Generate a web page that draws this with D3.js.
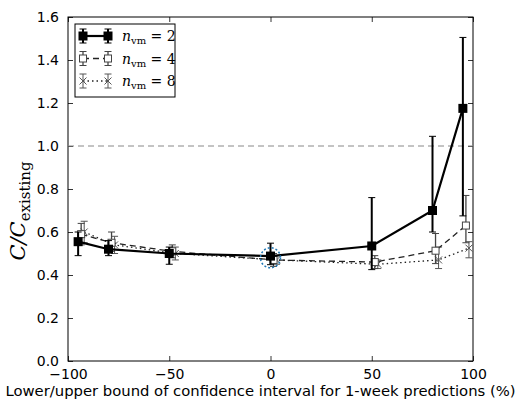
<!DOCTYPE html>
<html>
<head>
<meta charset="utf-8">
<script src="https://cdn.jsdelivr.net/npm/d3@7"></script>
<style>
  body { margin: 0; background: #fff; }
</style>
</head>
<body>
<div id="chart"></div>
<script>
// data (asymmetric error bars: lower / upper distances)
const xVals = [-95, -80, -50, 0, 50, 80, 95];
const n2Vals = [0.555, 0.52, 0.50, 0.488, 0.535, 0.70, 1.175];
const n2Lo = [0.065, 0.03, 0.05, 0.04, 0.11, 0.10, 0.50];
const n2Hi = [0.045, 0.04, 0.03, 0.06, 0.225, 0.345, 0.33];
const n4Vals = [0.59, 0.55, 0.51, 0.47, 0.46, 0.513, 0.63];
const n4Lo = [0.05, 0.04, 0.03, 0.03, 0.03, 0.06, 0.08];
const n4Hi = [0.05, 0.05, 0.03, 0.03, 0.03, 0.08, 0.14];
const n8Vals = [0.60, 0.54, 0.50, 0.47, 0.45, 0.47, 0.525];
const n8Lo = [0.05, 0.04, 0.03, 0.02, 0.02, 0.04, 0.045];
const n8Hi = [0.05, 0.04, 0.03, 0.02, 0.02, 0.06, 0.03];
const seriesLabels = ['2', '4', '8'];
const xTicks = [-100, -50, 0, 50, 100];
const yTicks = [0, 0.2, 0.4, 0.6, 0.8, 1.0, 1.2, 1.4, 1.6];
const refLine = 1.0;
const highlight = {x: 0, y: 0.48};

const margin = {top: 17, right: 46, bottom: 38, left: 68},
    width = 519 - margin.left - margin.right,
    height = 399 - margin.top - margin.bottom;

const sans = '"DejaVu Sans", sans-serif';
const serif = '"DejaVu Serif", serif';

const svg = d3.select('#chart')
    .append('svg')
    .attr('width', 519)
    .attr('height', 399)
    .append('g')
    .attr('transform', `translate(${margin.left},${margin.top})`);

const xScale = d3.scaleLinear().domain([-100, 100]).range([0, width]);
const yScale = d3.scaleLinear().domain([0, 1.6]).range([height, 0]);

const fmtX = d => d < 0 ? '\u2212' + Math.abs(d) : String(d);

// axes: matplotlib classic style, ticks inside on all four sides
svg.append('g').attr('class', 'ax')
    .attr('transform', `translate(0,${height})`)
    .call(d3.axisBottom(xScale).tickValues(xTicks).tickSizeInner(-5).tickSizeOuter(0).tickPadding(8).tickFormat(fmtX));
svg.append('g').attr('class', 'ax')
    .call(d3.axisTop(xScale).tickValues(xTicks).tickSizeInner(-5).tickSizeOuter(0).tickFormat(''));
svg.append('g').attr('class', 'ax')
    .call(d3.axisLeft(yScale).tickValues(yTicks).tickSizeInner(-5).tickSizeOuter(0).tickPadding(9).tickFormat(d3.format('.1f')));
svg.append('g').attr('class', 'ax')
    .attr('transform', `translate(${width},0)`)
    .call(d3.axisRight(yScale).tickValues(yTicks).tickSizeInner(-5).tickSizeOuter(0).tickFormat(''));

svg.selectAll('.ax .domain').remove();
svg.selectAll('.ax line').attr('stroke', '#000').attr('stroke-width', 0.8);
svg.selectAll('.ax text').style('font-family', sans).style('font-size', '14px').attr('fill', '#000');

svg.append('rect')
    .attr('width', width).attr('height', height)
    .attr('fill', 'none').attr('stroke', '#000').attr('stroke-width', 1);

// reference line at 1.0
svg.append('line')
    .attr('x1', 0).attr('x2', width)
    .attr('y1', yScale(refLine)).attr('y2', yScale(refLine))
    .attr('stroke', '#888').attr('stroke-width', 1).attr('stroke-dasharray', '6,4');

const series = [
    {label: seriesLabels[0], vals: n2Vals, lo: n2Lo, hi: n2Hi, dx: 0, color: '#000', lw: 2.2, dash: null, marker: 'filled', ebw: 2},
    {label: seriesLabels[1], vals: n4Vals, lo: n4Lo, hi: n4Hi, dx: 1.5, color: '#444', lw: 1.3, dash: '6,4', marker: 'open', ebw: 1.3},
    {label: seriesLabels[2], vals: n8Vals, lo: n8Lo, hi: n8Hi, dx: 3, color: '#555', lw: 1.3, dash: '1.5,3', marker: 'x', ebw: 1}
];

function drawMarker(g, type, cx, cy, color) {
    if (type === 'filled') {
        g.append('rect').attr('x', cx - 4.5).attr('y', cy - 4.5).attr('width', 9).attr('height', 9).attr('fill', '#000');
    } else if (type === 'open') {
        g.append('rect').attr('x', cx - 3.5).attr('y', cy - 3.5).attr('width', 7).attr('height', 7)
            .attr('fill', '#fff').attr('stroke', color).attr('stroke-width', 1);
    } else {
        g.append('path').attr('d', `M${cx - 3.5},${cy - 3.5}L${cx + 3.5},${cy + 3.5}M${cx - 3.5},${cy + 3.5}L${cx + 3.5},${cy - 3.5}`)
            .attr('stroke', color).attr('stroke-width', 1).attr('fill', 'none');
    }
}

function drawErr(g, cx, y0, y1, color, w) {
    g.append('line').attr('x1', cx).attr('x2', cx).attr('y1', y0).attr('y2', y1).attr('stroke', color).attr('stroke-width', w);
    [y0, y1].forEach(y => g.append('line').attr('x1', cx - 3.5).attr('x2', cx + 3.5).attr('y1', y).attr('y2', y)
        .attr('stroke', color).attr('stroke-width', 1));
}

// draw in reverse so n=2 sits on top
series.slice().reverse().forEach(s => {
    const g = svg.append('g');
    const pts = xVals.map((x, i) => ({x: x + s.dx, y: s.vals[i], lo: s.lo[i], hi: s.hi[i]}));
    pts.forEach(p => drawErr(g, xScale(p.x), yScale(p.y - p.lo), yScale(p.y + p.hi), s.color, s.ebw));
    g.append('path')
        .datum(pts)
        .attr('fill', 'none')
        .attr('stroke', s.marker === 'filled' ? '#000' : '#222')
        .attr('stroke-width', s.lw)
        .attr('stroke-dasharray', s.dash)
        .attr('d', d3.line().x(d => xScale(d.x)).y(d => yScale(d.y)));
    pts.forEach(p => drawMarker(g, s.marker, xScale(p.x), yScale(p.y), s.color));
});

// highlighted point
svg.append('circle')
    .attr('cx', xScale(highlight.x)).attr('cy', yScale(highlight.y)).attr('r', 10)
    .attr('fill', 'none').attr('stroke', '#1f77b4').attr('stroke-width', 1.5).attr('stroke-dasharray', '2,2');

// legend
const leg = svg.append('g').attr('transform', 'translate(7,7)');
leg.append('rect').attr('width', 100).attr('height', 73)
    .attr('fill', '#fff').attr('stroke', '#000').attr('stroke-width', 1);
series.forEach((s, i) => {
    const cy = 12 + i * 22.5;
    const r = leg.append('g');
    r.append('line').attr('x1', 8).attr('x2', 33).attr('y1', cy).attr('y2', cy)
        .attr('stroke', s.marker === 'filled' ? '#000' : '#222').attr('stroke-width', s.lw).attr('stroke-dasharray', s.dash);
    [8, 33].forEach(cx => {
        drawErr(r, cx, cy - 7, cy + 7, s.color, s.ebw);
        drawMarker(r, s.marker, cx, cy, s.color);
    });
    const t = r.append('text').attr('x', 47).attr('y', cy + 5)
        .style('font-family', serif).style('font-size', '14px');
    t.append('tspan').style('font-style', 'italic').text('n');
    t.append('tspan').style('font-size', '10px').attr('dy', 3).text('vm');
    t.append('tspan').attr('dy', -3).text(' = ' + s.label);
});

// axis labels
svg.append('text')
    .attr('x', width / 2 - 10).attr('y', height + 35)
    .attr('text-anchor', 'middle')
    .style('font-family', sans).style('font-size', '14.8px')
    .text('Lower/upper bound of confidence interval for 1-week predictions (%)');

const yl = svg.append('text')
    .attr('transform', `translate(${-43},${height / 2 + 22}) rotate(-90)`)
    .attr('text-anchor', 'middle')
    .style('font-family', serif).style('font-size', '21px');
yl.append('tspan').style('font-style', 'italic').text('C/C');
yl.append('tspan').style('font-size', '15px').attr('dy', 5).text('existing');
</script>
</body>
</html>
